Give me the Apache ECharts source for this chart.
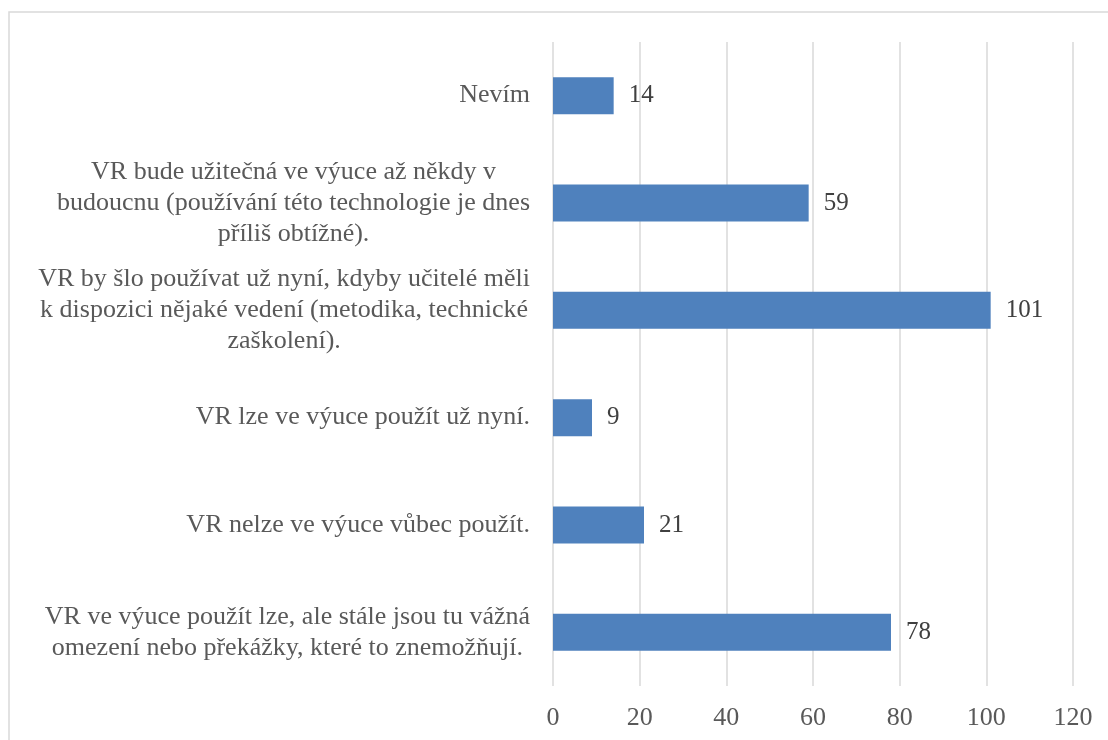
<!DOCTYPE html>
<html>
<head>
<meta charset="utf-8">
<script src="https://cdn.jsdelivr.net/npm/echarts@6/dist/echarts.min.js"></script>
<style>
  html, body { margin: 0; padding: 0; background: #fff; }
  #chart { width: 1108px; height: 740px; }
</style>
</head>
<body>
<div id="chart"></div>
<script>
// categories, top to bottom, with the line breaks used in the picture
const categories = [
  ['Nevím'],
  ['VR bude užitečná ve výuce až někdy v', 'budoucnu (používání této technologie je dnes', 'příliš obtížné).'],
  ['VR by šlo používat už nyní, kdyby učitelé měli', 'k dispozici nějaké vedení (metodika, technické', 'zaškolení).'],
  ['VR lze ve výuce použít už nyní.'],
  ['VR nelze ve výuce vůbec použít.'],
  ['VR ve výuce použít lze, ale stále jsou tu vážná', 'omezení nebo překážky, které to znemožňují.']
];
const counts = [14, 59, 101, 9, 21, 78];
const xTicks = [0, 20, 40, 60, 80, 100, 120];

const font = '"Liberation Serif", "Times New Roman", serif';

const chart = echarts.init(document.getElementById('chart'));
chart.setOption({
  animation: false,
  backgroundColor: '#fff',
  graphic: [{
    type: 'rect',
    shape: { x: 9, y: 12, width: 1200, height: 800 },
    style: { fill: 'none', stroke: '#d9d9d9', lineWidth: 1.5 },
    silent: true
  }],
  grid: { left: 553, right: 35, top: 42, bottom: 54, containLabel: false },
  xAxis: {
    type: 'value',
    min: xTicks[0],
    max: xTicks[xTicks.length - 1],
    interval: 20,
    axisLine: { show: false },
    axisTick: { show: false },
    axisLabel: { color: '#595959', fontFamily: font, fontSize: 26, margin: 19 },
    splitLine: { lineStyle: { color: '#d9d9d9', width: 1.5 } }
  },
  yAxis: {
    type: 'category',
    inverse: true,
    data: categories.map(lines => lines.join('\n')),
    axisLine: { show: false },
    axisTick: { show: false },
    axisLabel: {
      margin: 23,
      formatter: v => v.split('\n').map(l => '{c|' + l + '}').join('\n'),
      rich: {
        c: { align: 'center', color: '#595959', fontFamily: font, fontSize: 26, lineHeight: 31 }
      }
    }
  },
  series: [{
    type: 'bar',
    data: counts,
    barWidth: 37,
    itemStyle: { color: '#4f81bd' },
    label: {
      show: true,
      position: 'right',
      distance: 15,
      color: '#404040',
      fontFamily: font,
      fontSize: 25
    }
  }]
});
</script>
</body>
</html>
